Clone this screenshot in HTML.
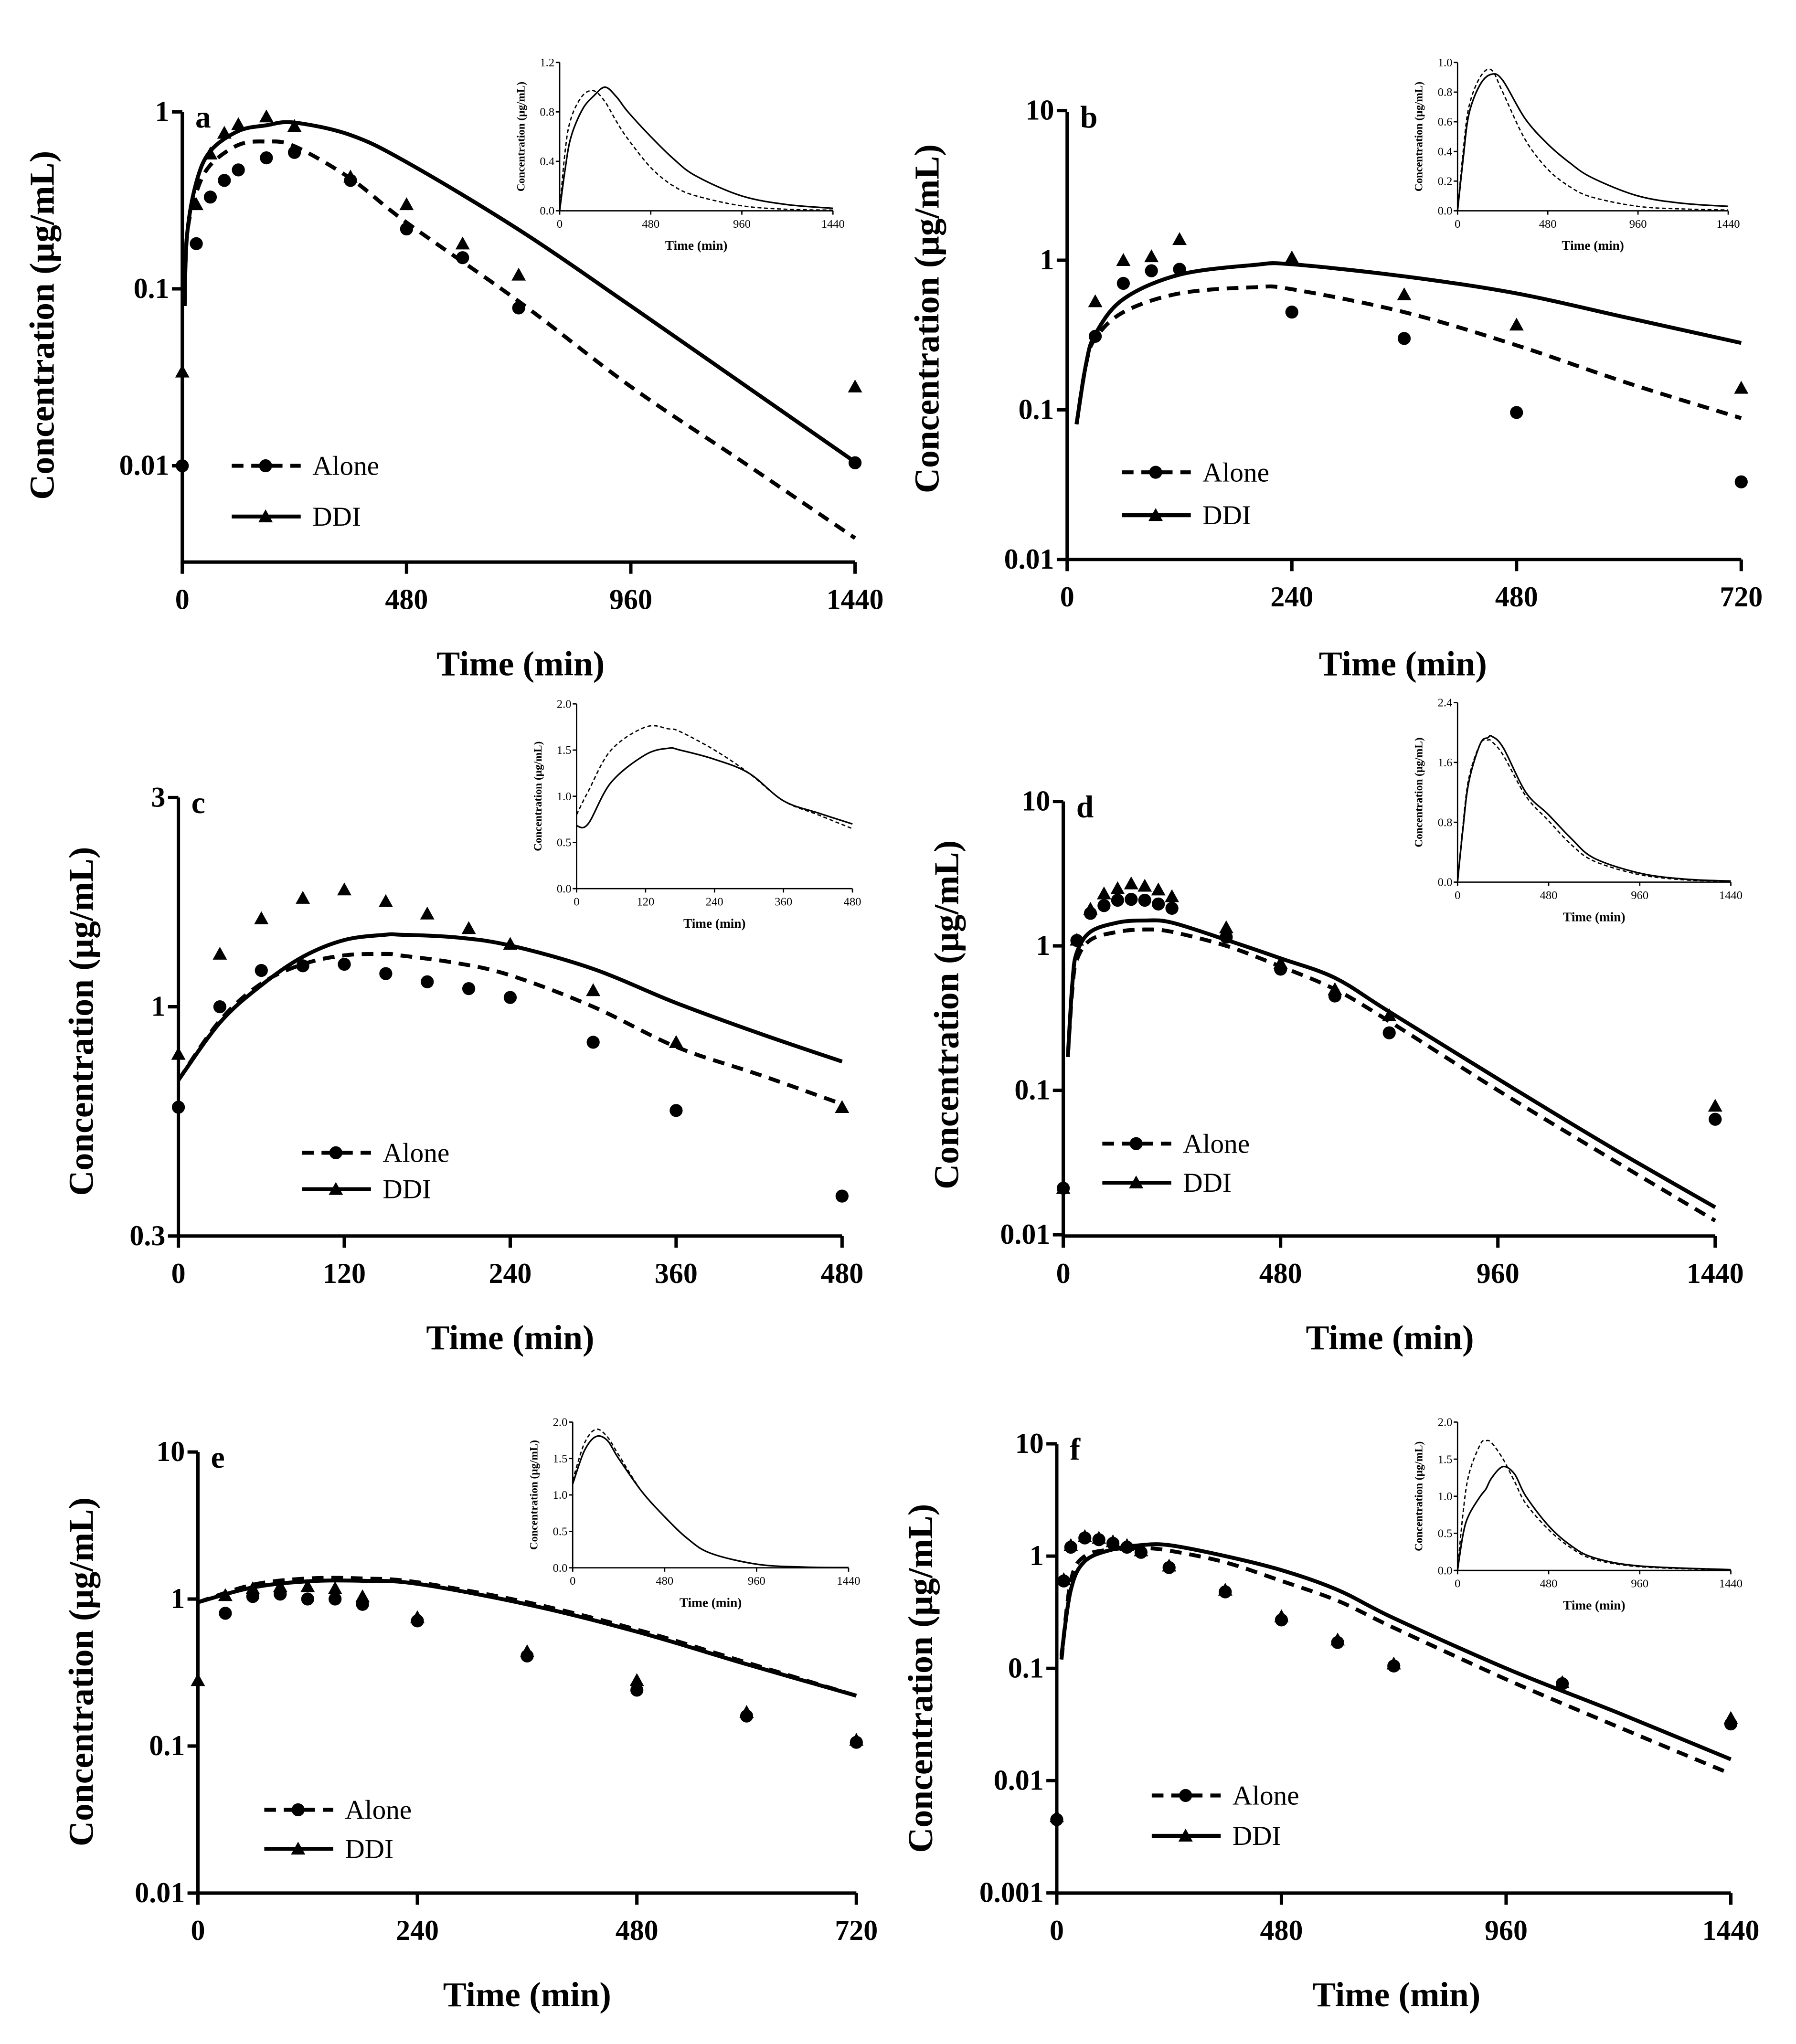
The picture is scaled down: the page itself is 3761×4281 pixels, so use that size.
<!DOCTYPE html>
<html><head><meta charset="utf-8"><style>
html,body{margin:0;padding:0;background:#fff}
svg{display:block}
text{font-family:"Liberation Serif",serif;fill:#000}
</style></head><body>
<svg id="fig" width="3761" height="4281" viewBox="0 0 1380 1571" xmlns="http://www.w3.org/2000/svg">
<rect width="1380" height="1571" fill="#fff"/>
</svg>
<script>
// ---- Panel a data ----
const aObsTime=[0,30,60,90,120,180,240,360,480,600,720,1440];
const aAloneObs=[0.01,0.18,0.33,0.41,0.47,0.55,0.59,0.41,0.218,0.15,0.078,0.0104];
const aDdiObs=[0.034,0.3,0.58,0.76,0.85,0.94,0.83,0.43,0.3,0.18,0.12,0.028];
const aLineTime=[5,10,30,60,120,180,240,360,480,720,960,1200,1440];
const aAloneLine=[0.08,0.2,0.35,0.5,0.65,0.68,0.64,0.42,0.237,0.085,0.028,0.0105,0.0039];
const aDdiLine=[0.08,0.2,0.4,0.6,0.78,0.84,0.87,0.74,0.52,0.216,0.08,0.029,0.0105];
const aInsetTime=[0,30,60,120,180,240,300,360,480,600,720,960,1200,1440];
const aInsetAlone=[0,0.5,0.75,0.93,0.97,0.88,0.72,0.58,0.35,0.2,0.12,0.04,0.012,0.005];
const aInsetDdi=[0,0.35,0.6,0.82,0.93,1.0,0.92,0.8,0.6,0.42,0.28,0.12,0.05,0.02];
// ---- Panel b data ----
const bObsTime=[30,60,90,120,240,360,480,720];
const bAloneObs=[0.31,0.7,0.85,0.87,0.45,0.3,0.096,0.033];
const bDdiObs=[0.53,1.0,1.06,1.38,1.04,0.59,0.37,0.14];
const bLineTime=[10,20,30,60,120,200,240,360,480,600,720];
const bAloneLine=[0.08,0.2,0.3,0.45,0.6,0.66,0.64,0.45,0.27,0.15,0.088];
const bDdiLine=[0.08,0.2,0.32,0.55,0.8,0.93,0.94,0.78,0.6,0.41,0.28];
const bInsetTime=[0,30,60,120,180,240,360,480,600,720,960,1200,1440];
const bInsetAlone=[0,0.4,0.7,0.9,0.95,0.8,0.48,0.28,0.16,0.09,0.03,0.012,0.005];
const bInsetDdi=[0,0.35,0.65,0.85,0.92,0.88,0.62,0.45,0.32,0.22,0.1,0.05,0.03];
// ---- Panel c data ----
const cObsTime=[0,30,60,90,120,150,180,210,240,300,360,480];
const cAloneObs=[0.59,1.0,1.21,1.24,1.25,1.19,1.14,1.1,1.05,0.83,0.58,0.37];
const cDdiObs=[0.78,1.32,1.59,1.77,1.85,1.74,1.63,1.51,1.39,1.09,0.83,0.59];
const cLineTime=[0,30,60,90,120,150,160,200,240,300,360,420,480];
const cAloneLine=[0.68,0.93,1.13,1.25,1.31,1.32,1.31,1.26,1.18,1.0,0.81,0.7,0.6];
const cDdiLine=[0.68,0.92,1.12,1.3,1.42,1.46,1.46,1.44,1.38,1.22,1.02,0.87,0.75];
const cInsetTime=[0,20,60,120,160,180,240,300,360,420,480];
const cInsetAlone=[0.8,1.05,1.5,1.75,1.73,1.7,1.5,1.25,0.95,0.8,0.65];
const cInsetDdi=[0.68,0.7,1.15,1.45,1.52,1.5,1.4,1.25,0.95,0.82,0.7];
// ---- Panel d data ----
const dObsTime=[0,30,60,90,120,150,180,210,240,360,480,600,720,1440];
const dAloneObs=[0.021,1.09,1.68,1.9,2.07,2.1,2.07,1.95,1.82,1.15,0.69,0.45,0.25,0.063];
const dDdiObs=[0.021,1.1,1.8,2.3,2.5,2.7,2.6,2.45,2.2,1.34,0.76,0.5,0.33,0.078];
const dLineTime=[10,20,30,60,120,180,240,360,480,600,720,960,1200,1440];
const dAloneLine=[0.17,0.5,0.8,1.1,1.25,1.3,1.25,1.0,0.72,0.5,0.3,0.1,0.035,0.0125];
const dDdiLine=[0.17,0.55,0.9,1.25,1.45,1.5,1.45,1.1,0.82,0.6,0.35,0.12,0.042,0.0155];
const dInsetTime=[0,30,60,120,160,180,240,360,480,600,720,960,1200,1440];
const dInsetAlone=[0,0.8,1.4,1.85,1.9,1.88,1.7,1.15,0.82,0.5,0.28,0.1,0.03,0.01];
const dInsetDdi=[0,0.75,1.35,1.85,1.93,1.95,1.8,1.2,0.9,0.58,0.32,0.12,0.04,0.015];
// ---- Panel e data ----
const eObsTime=[0,30,60,90,120,150,180,240,360,480,600,720];
const eAloneObs=[null,0.8,1.04,1.08,1.0,1.0,0.92,0.71,0.41,0.24,0.16,0.106];
const eDdiObs=[0.28,1.06,1.18,1.22,1.22,1.18,1.04,0.75,0.44,0.28,0.17,0.11];
const eLineTime=[0,60,120,180,240,360,480,600,720];
const eAloneLine=[0.95,1.25,1.38,1.38,1.3,0.95,0.62,0.37,0.22];
const eDdiLine=[0.95,1.2,1.32,1.33,1.27,0.92,0.6,0.36,0.22];
const eInsetTime=[0,60,120,180,240,360,480,600,720,960,1200,1440];
const eInsetAlone=[1.2,1.7,1.9,1.8,1.55,1.05,0.7,0.4,0.2,0.05,0.01,0.003];
const eInsetDdi=[1.15,1.6,1.8,1.75,1.5,1.05,0.7,0.4,0.2,0.05,0.01,0.003];
// ---- Panel f data ----
const fObsTime=[0,15,30,60,90,120,150,180,240,360,480,600,720,1080,1440];
const fAloneObs=[0.0045,0.6,1.2,1.45,1.4,1.3,1.2,1.08,0.79,0.48,0.27,0.17,0.105,0.073,0.032];
const fDdiObs=[0.0048,0.62,1.25,1.5,1.45,1.35,1.25,1.12,0.82,0.5,0.29,0.18,0.11,0.075,0.036];
const fLineTime=[10,30,60,120,180,240,360,480,600,720,960,1200,1440];
const fAloneLine=[0.12,0.6,1.0,1.15,1.18,1.12,0.88,0.6,0.4,0.23,0.08,0.03,0.0115];
const fDdiLine=[0.13,0.5,0.9,1.15,1.25,1.25,1.0,0.75,0.5,0.28,0.1,0.04,0.0155];
const fInsetTime=[0,30,60,120,150,180,240,300,360,480,600,720,960,1440];
const fInsetAlone=[0,0.8,1.3,1.7,1.75,1.72,1.5,1.2,0.9,0.55,0.3,0.15,0.05,0.005];
const fInsetDdi=[0,0.5,0.75,1.0,1.1,1.25,1.4,1.3,1.0,0.6,0.33,0.17,0.06,0.01];
// ---- tick labels ----
const ticks1440=[0,480,960,1440];
const ticks720=[0,240,480,720];
const ticks480=[0,120,240,360,480];

const NS="http://www.w3.org/2000/svg";
const fig=document.getElementById('fig');
function mk(tag,attrs,parent,txt){const e=document.createElementNS(NS,tag);for(const k in attrs)e.setAttribute(k,attrs[k]);if(txt!==undefined)e.textContent=txt;(parent||fig).appendChild(e);return e;}
function smooth(pts){
  let d='M'+pts[0][0].toFixed(1)+','+pts[0][1].toFixed(1);
  for(let i=0;i<pts.length-1;i++){
    const p0=pts[i-1]||pts[i],p1=pts[i],p2=pts[i+1],p3=pts[i+2]||pts[i+1];
    const c1=[p1[0]+(p2[0]-p0[0])/6,p1[1]+(p2[1]-p0[1])/6];
    const c2=[p2[0]-(p3[0]-p1[0])/6,p2[1]-(p3[1]-p1[1])/6];
    d+=`C${c1[0].toFixed(1)},${c1[1].toFixed(1)} ${c2[0].toFixed(1)},${c2[1].toFixed(1)} ${p2[0].toFixed(1)},${p2[1].toFixed(1)}`;
  }
  return d;
}

const panels=[
 {id:'a',x0:140,x1:657,tmax:1440,xt:ticks1440,ref:1,refY:86,dec:136,top:86,bot:432,yt:[[1,'1'],[0.1,'0.1'],[0.01,'0.01']],ylab:[35,250],xlab:[400,510],leg:[178,358,397],
  obsT:aObsTime,aO:aAloneObs,dO:aDdiObs,lT:aLineTime,aL:aAloneLine,dL:aDdiLine,
  ins:{l:430,r:640,t:48,b:162,ymax:1.2,yt:[0,0.4,0.8,1.2],tmax:1440,xt:ticks1440,T:aInsetTime,A:aInsetAlone,D:aInsetDdi}},
 {id:'b',x0:820,x1:1338,tmax:720,xt:ticks720,ref:1,refY:200,dec:115,top:86,bot:430,yt:[[10,'10'],[1,'1'],[0.1,'0.1'],[0.01,'0.01']],ylab:[715,245],xlab:[1078,510],leg:[862,363,396],
  obsT:bObsTime,aO:bAloneObs,dO:bDdiObs,lT:bLineTime,aL:bAloneLine,dL:bDdiLine,
  ins:{l:1120,r:1328,t:48,b:162,ymax:1.0,yt:[0,0.2,0.4,0.6,0.8,1.0],tmax:1440,xt:ticks1440,T:bInsetTime,A:bInsetAlone,D:bInsetDdi}},
 {id:'c',x0:137,x1:647,tmax:480,xt:ticks480,ref:0.3,refY:950,dec:337,top:613,bot:950,yt:[[3,'3'],[1,'1'],[0.3,'0.3']],ylab:[65,785],xlab:[392,1028],leg:[232,886,914],
  obsT:cObsTime,aO:cAloneObs,dO:cDdiObs,lT:cLineTime,aL:cAloneLine,dL:cDdiLine,
  ins:{l:443,r:655,t:541,b:683,ymax:2,yt:[0,0.5,1.0,1.5,2],tmax:480,xt:ticks480,T:cInsetTime,A:cInsetAlone,D:cInsetDdi}},
 {id:'d',x0:817,x1:1318,tmax:1440,xt:ticks1440,ref:1,refY:727,dec:111,top:616,bot:950,yt:[[10,'10'],[1,'1'],[0.1,'0.1'],[0.01,'0.01']],ylab:[730,780],xlab:[1068,1028],leg:[847,879,909],
  obsT:dObsTime,aO:dAloneObs,dO:dDdiObs,lT:dLineTime,aL:dAloneLine,dL:dDdiLine,
  ins:{l:1120,r:1330,t:540,b:678,ymax:2.4,yt:[0,0.8,1.6,2.4],tmax:1440,xt:ticks1440,T:dInsetTime,A:dInsetAlone,D:dInsetDdi}},
 {id:'e',x0:152,x1:658,tmax:720,xt:ticks720,ref:1,refY:1229,dec:113,top:1116,bot:1455,yt:[[10,'10'],[1,'1'],[0.1,'0.1'],[0.01,'0.01']],ylab:[65,1285],xlab:[405,1533],leg:[203,1391,1421],
  obsT:eObsTime,aO:eAloneObs,dO:eDdiObs,lT:eLineTime,aL:eAloneLine,dL:eDdiLine,
  ins:{l:440,r:652,t:1093,b:1205,ymax:2.0,yt:[0,0.5,1.0,1.5,2.0],tmax:1440,xt:ticks1440,T:eInsetTime,A:eInsetAlone,D:eInsetDdi}},
 {id:'f',x0:812,x1:1330,tmax:1440,xt:ticks1440,ref:1,refY:1196,dec:86.3,top:1110,bot:1455,yt:[[10,'10'],[1,'1'],[0.1,'0.1'],[0.01,'0.01'],[0.001,'0.001']],ylab:[710,1290],xlab:[1073,1533],leg:[885,1380,1411],
  obsT:fObsTime,aO:fAloneObs,dO:fDdiObs,lT:fLineTime,aL:fAloneLine,dL:fDdiLine,
  ins:{l:1120,r:1330,t:1093,b:1207,ymax:2.0,yt:[0,0.5,1.0,1.5,2.0],tmax:1440,xt:ticks1440,T:fInsetTime,A:fInsetAlone,D:fInsetDdi}}
];

function tri(g,x,y,s){return mk('polygon',{points:`${x},${y-s} ${x-s},${y+s*0.8} ${x+s},${y+s*0.8}`,fill:'#000'},g);}

panels.forEach(p=>{
  const g=mk('g',{});
  
  
  const X=t=>p.x0+(t/p.tmax)*(p.x1-p.x0);
  const Y=v=>p.refY-(Math.log10(v)-Math.log10(p.ref))*p.dec;
  const ax=mk('path',{d:`M${p.x0},${p.top}V${p.bot}H${p.x1}`,fill:'none',stroke:'#000','stroke-width':2.6},g);
  
  p.xt.forEach(t=>{
    mk('line',{x1:X(t),x2:X(t),y1:p.bot,y2:p.bot+9,stroke:'#000','stroke-width':2.6},g);
    const tl=mk('text',{x:X(t),y:p.bot+36,'text-anchor':'middle','font-size':22,'font-weight':'bold'},g,String(t));
    
  });
  p.yt.forEach(([v,s])=>{
    mk('line',{x1:p.x0-8,x2:p.x0,y1:Y(v),y2:Y(v),stroke:'#000','stroke-width':2.6},g);
    const tl=mk('text',{x:p.x0-10,y:Y(v)+7,'text-anchor':'end','font-size':22,'font-weight':'bold'},g,s);
    
  });
  const yl=mk('text',{x:0,y:0,transform:`translate(${p.ylab[0]},${p.ylab[1]}) rotate(-90)`,'text-anchor':'middle','font-size':27,'font-weight':'bold','dominant-baseline':'middle'},g,'Concentration (µg/mL)');
  
  const xl=mk('text',{x:p.xlab[0],y:p.xlab[1]+9,'text-anchor':'middle','font-size':27,'font-weight':'bold'},g,'Time (min)');
  
  const lt=mk('text',{x:p.x0+10,y:p.top+12,'font-size':24,'font-weight':'bold'},g,p.id);
  
  const pa=mk('path',{d:smooth(p.lT.map((t,i)=>[X(t),Y(p.aL[i])])),fill:'none',stroke:'#000','stroke-width':3,'stroke-dasharray':'9,6'},g);
  
  const pd=mk('path',{d:smooth(p.lT.map((t,i)=>[X(t),Y(p.dL[i])])),fill:'none',stroke:'#000','stroke-width':3},g);
  
  p.obsT.forEach((t,i)=>{
    if(p.dO[i]!=null){const m=tri(g,X(t),Y(p.dO[i]),5.5);}
    if(p.aO[i]!=null){const c=mk('circle',{cx:X(t),cy:Y(p.aO[i]),r:5,fill:'#000'},g);}
  });
  const [lx,ly1,ly2]=p.leg;
  const la=mk('g',{},g);
  mk('line',{x1:lx,x2:lx+53,y1:ly1,y2:ly1,stroke:'#000','stroke-width':3,'stroke-dasharray':'9,6'},la);
  mk('circle',{cx:lx+26,cy:ly1,r:5,fill:'#000'},la);
  mk('text',{x:lx+62,y:ly1+7,'font-size':21},la,'Alone');
  const ld=mk('g',{},g);
  mk('line',{x1:lx,x2:lx+53,y1:ly2,y2:ly2,stroke:'#000','stroke-width':3},ld);
  tri(ld,lx+26,ly2,5.5);
  mk('text',{x:lx+62,y:ly2+7,'font-size':21},ld,'DDI');
  const n=p.ins;const ig=mk('g',{},g);
  const IX=t=>n.l+(t/n.tmax)*(n.r-n.l);
  const IY=v=>n.b-(v/n.ymax)*(n.b-n.t);
  mk('path',{d:`M${n.l},${n.t}V${n.b}H${n.r}`,fill:'none',stroke:'#000','stroke-width':1},ig);
  n.xt.forEach(t=>{mk('line',{x1:IX(t),x2:IX(t),y1:n.b,y2:n.b+3,stroke:'#000','stroke-width':1},ig);
    mk('text',{x:IX(t),y:n.b+13,'text-anchor':'middle','font-size':9},ig,String(t));});
  n.yt.forEach(v=>{mk('line',{x1:n.l-3,x2:n.l,y1:IY(v),y2:IY(v),stroke:'#000','stroke-width':1},ig);
    mk('text',{x:n.l-4,y:IY(v)+3,'text-anchor':'end','font-size':9},ig,v===0?'0.0':(Number.isInteger(v*10)?v.toFixed(1):String(v)));});
  mk('text',{x:0,y:0,transform:`translate(${n.l-27},${(n.t+n.b)/2}) rotate(-90)`,'text-anchor':'middle','font-size':8.5,'font-weight':'bold'},ig,'Concentration (µg/mL)');
  mk('text',{x:(n.l+n.r)/2,y:n.b+30,'text-anchor':'middle','font-size':10,'font-weight':'bold'},ig,'Time (min)');
  const ia=mk('path',{d:smooth(n.T.map((t,i)=>[IX(t),IY(n.A[i])])),fill:'none',stroke:'#000','stroke-width':1,'stroke-dasharray':'3,2'},ig);
  
  const id=mk('path',{d:smooth(n.T.map((t,i)=>[IX(t),IY(n.D[i])])),fill:'none',stroke:'#000','stroke-width':1.2},ig);
  
});
</script>
</body></html>
